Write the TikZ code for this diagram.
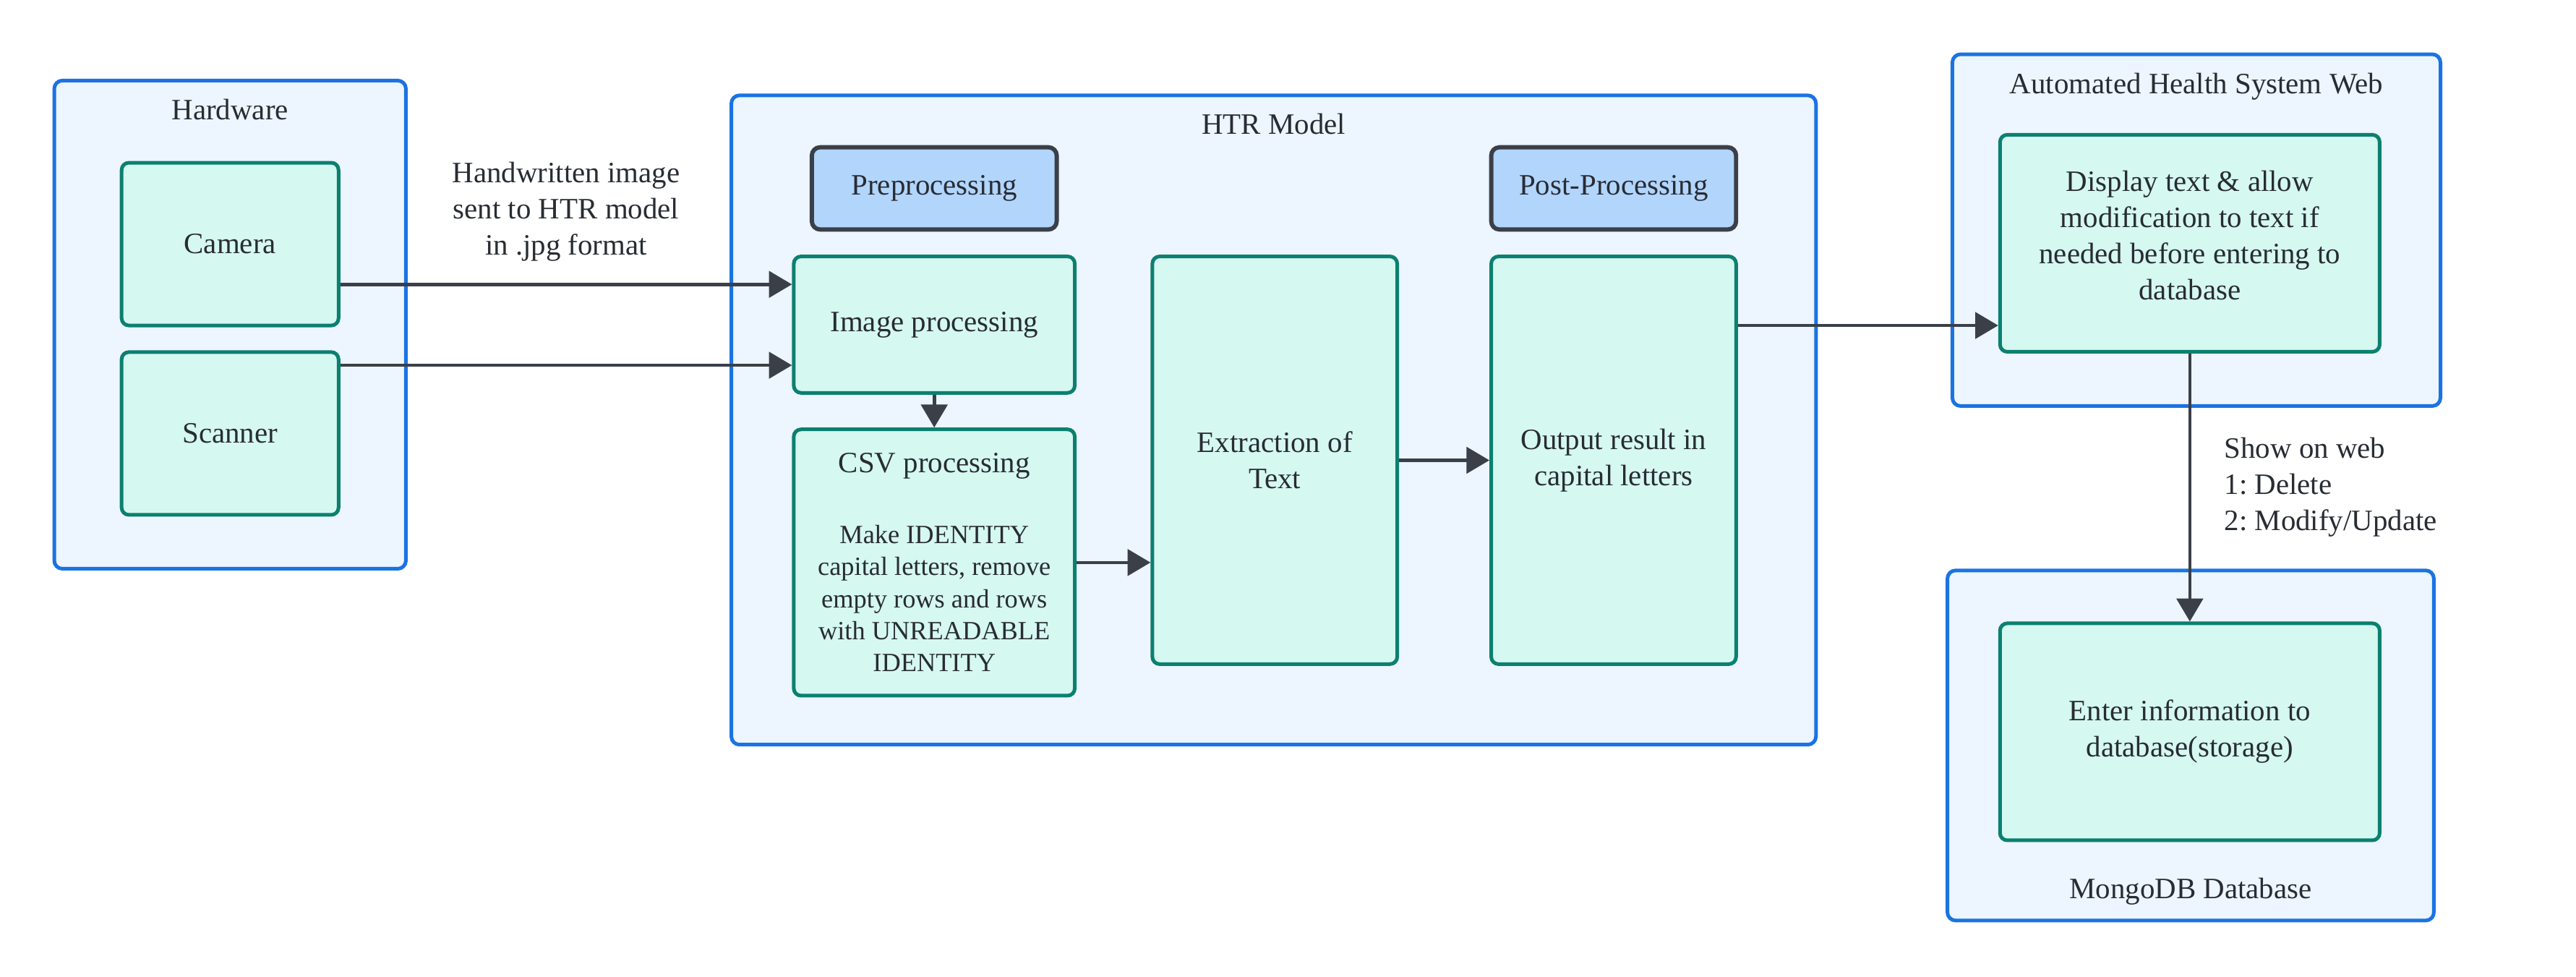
\documentclass[tikz,border=0pt]{standalone}
\usepackage{fontspec}
\setmainfont{Liberation Serif}
\frenchspacing
\usetikzlibrary{arrows.meta,positioning,calc}
\definecolor{groupblue}{HTML}{1A73E3}
\definecolor{groupfill}{HTML}{EDF5FE}
\definecolor{stepgreen}{HTML}{0B8070}
\definecolor{stepfill}{HTML}{D5F8F1}
\definecolor{headfill}{HTML}{B2D5FC}
\definecolor{darkline}{HTML}{3A3F48}
\definecolor{inktext}{HTML}{282C33}
\tikzset{
  % Define standard arrow tip
  >={Triangle[length=7pt,width=8pt]},
  % Define style for the outer groups
  groupbox/.style={
    rectangle,
    rounded corners=2.5pt,
    draw=groupblue, fill=groupfill,
    line width=1.1pt,
    inner sep=0pt},
  % Define style for process boxes
  box/.style={
    rectangle,
    rounded corners=2.2pt,
    draw=stepgreen, fill=stepfill,
    line width=1.1pt,
    inner sep=0pt,
    align=flush center},
  % Define style for stage headers
  stagehead/.style={
    rectangle,
    rounded corners=2.5pt,
    draw=darkline, fill=headfill,
    line width=1.3pt,
    minimum width=74.5pt,
    minimum height=25pt},
  % group titles and edge labels
  grouptitle/.style={inner sep=0pt},
  edgelabel/.style={inner sep=0pt},
  % Define arrow style
  arrow/.style={
    ->,
    draw=darkline,
    line width=1pt},
}

\begin{document}
\begin{tikzpicture}[x=0.5pt, y=-0.5pt, font=\fontsize{9}{11}\selectfont, text=inktext]
  \useasboundingbox (0,0) rectangle (1567.5,594);
  % groups
  \node[groupbox, minimum width=107pt, minimum height=148.5pt] (hw) at (140,197.5) {};
  \node[grouptitle, below=6pt of hw.north] (hwtitle) {Hardware};
  \node[groupbox, minimum width=330pt, minimum height=197.5pt] (htr) at (775,255.5) {};
  \node[grouptitle, below=6pt of htr.north] (htrtitle) {HTR Model};
  \node[groupbox, minimum width=148.5pt, minimum height=107pt] (web) at (1336.5,140) {};
  \node[grouptitle, below=6pt of web.north] (webtitle) {Automated Health System Web};
  \node[groupbox, minimum width=148pt, minimum height=106.5pt] (db) at (1333,453.5) {};
  \node[grouptitle, above=5pt of db.south] (dbtitle) {MongoDB Database};

  % hardware
  \node[box, minimum width=66pt, minimum height=49.5pt] (camera) at (140,148.5) {Camera};
  \node[box, minimum width=66pt, minimum height=49.5pt, below=7pt of camera] (scanner) {Scanner};

  % HTR model
  \node[box, minimum width=85.5pt, minimum height=41.5pt] (img) at (568.5,197.5) {Image processing};
  \node[stagehead, above=7pt of img] (pre) {Preprocessing};
  \node[box, minimum width=85.5pt, minimum height=81pt, text width=80pt, below=10pt of img] (csv)
    {CSV processing\par\vspace{11.75pt}\fontsize{8}{9.75}\selectfont Make IDENTITY\\capital letters, remove\\empty rows and rows\\with UNREADABLE\\IDENTITY\par};
  \node[box, minimum width=74.5pt, minimum height=124pt, right=22.5pt of img.north east, anchor=north west] (ext) {Extraction of\\Text};
  \node[box, minimum width=74.5pt, minimum height=124pt, right=27.5pt of ext] (out) {Output result in\\capital letters};
  \node[stagehead, above=7pt of out] (post) {Post-Processing};

  % web and database
  \node[box, minimum width=115.5pt, minimum height=66pt] (disp) at (1332.5,148)
    {Display text \& allow\\modification to text if\\needed before entering to\\database\\[-6pt]};
  \node[box, minimum width=115.5pt, minimum height=66pt, below=81.5pt of disp] (enter)
    {Enter information to\\database(storage)};

  % arrows
  \coordinate (camout) at ([yshift=-12.25pt]camera.east);
  \coordinate (scanout) at ([yshift=20.75pt]scanner.east);
  \coordinate (dispin) at ([yshift=-25pt]disp.west);
  \draw[arrow] (camout) -- node[edgelabel, above=6.5pt, align=center] (sentlabel)
    {Handwritten image\\sent to HTR model\\in .jpg format} (camout -| img.west);
  \draw[arrow] (scanout) -- (scanout -| img.west);
  \draw[arrow] (img) -- (csv);
  \draw[arrow] (csv.east) -- (csv.east -| ext.west);
  \draw[arrow] (ext) -- (out);
  \draw[arrow] (dispin -| out.east) -- (dispin);
  \draw[arrow] (disp) -- node[edgelabel, right=10pt, align=left] (showlabel)
    {Show on web\\1: Delete\\2: Modify/Update} (enter);
\end{tikzpicture}
\end{document}
